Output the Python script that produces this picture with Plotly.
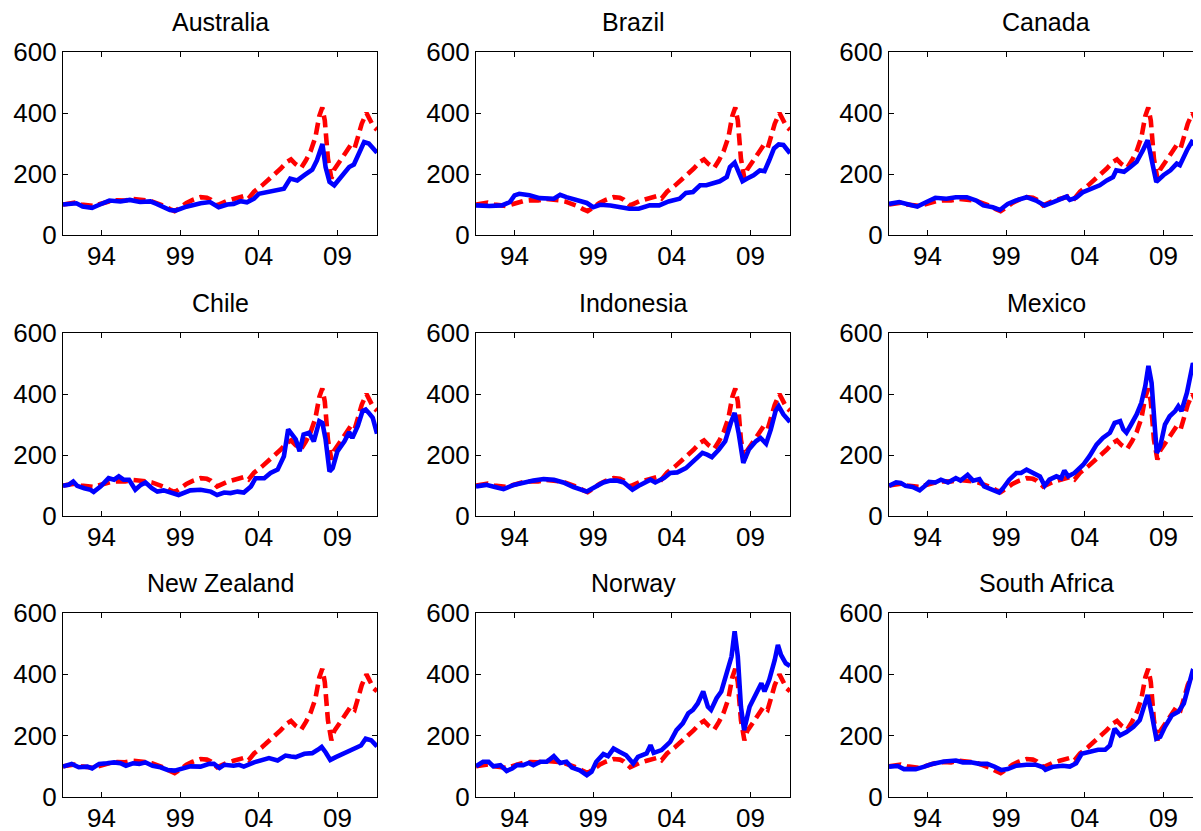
import plotly.graph_objects as go

# ---------------- data ----------------
COMMON_T = [1991.55, 1991.9, 1992.3, 1992.7, 1993.0, 1993.5, 1993.8, 1994.2, 1994.6, 1995.0,
            1995.5, 1996.0, 1996.4, 1996.8, 1997.2, 1997.6, 1998.0, 1998.35, 1998.65, 1999.0,
            1999.4, 1999.8, 2000.3, 2000.7, 2000.95, 2001.35, 2001.65, 2002.0, 2002.4, 2002.8,
            2003.1, 2003.35, 2003.7, 2004.2, 2004.6, 2005.0, 2005.4, 2005.8, 2006.05, 2006.35,
            2006.7, 2007.0, 2007.3, 2007.6, 2007.85, 2008.04, 2008.2, 2008.4, 2008.62, 2008.8,
            2009.1, 2009.5, 2009.85, 2010.1, 2010.3, 2010.55, 2010.85, 2011.05, 2011.3, 2011.52]
COMMON_V = [100, 104, 106, 100, 98, 95, 100, 107, 112, 114,
            113, 118, 117, 114, 110, 104, 95, 85, 78, 90,
            105, 115, 124, 122, 116, 97, 105, 112, 118, 124,
            128, 120, 142, 162, 180, 200, 218, 240, 248, 232,
            220, 245, 275, 320, 390, 418, 375, 250, 185, 215,
            240, 268, 295, 285, 320, 365, 400, 378, 355, 345]

AUS_T = [1991.55, 1992.4, 1992.8, 1993.4, 1993.9, 1994.5, 1995.2, 1995.8, 1996.45, 1997.1,
         1997.5, 1997.9, 1998.35, 1998.7, 1999.4, 2000.3, 2000.9, 2001.45, 2002.0, 2002.4,
         2002.85, 2003.25, 2003.7, 2004.0, 2004.5, 2005.2, 2005.6, 2006.0, 2006.45, 2006.9,
         2007.4, 2007.7, 2008.05, 2008.25, 2008.5, 2008.8, 2009.2, 2009.75, 2010.05, 2010.4,
         2010.7, 2011.0, 2011.52]
AUS_V = [100, 104, 93, 89, 100, 113, 110, 115, 108, 110,
         102, 91, 82, 80, 93, 104, 108, 91, 100, 102,
         111, 107, 119, 135, 141, 149, 152, 185, 179, 196,
         214, 245, 298, 223, 174, 163, 190, 223, 231, 267,
         305, 300, 270]

BRA_T = [1991.55, 1992.4, 1993.2, 1993.7, 1994.0, 1994.3, 1994.95, 1995.6, 1996.5, 1996.9,
         1997.3, 1997.95, 1998.6, 1999.0, 1999.45, 2000.1, 2000.7, 2001.3, 2001.9, 2002.6,
         2003.2, 2003.8, 2004.5, 2004.9, 2005.35, 2005.8, 2006.2, 2006.6, 2007.05, 2007.5,
         2007.7, 2008.0, 2008.3, 2008.5, 2008.8, 2009.2, 2009.6, 2009.9, 2010.2, 2010.5,
         2010.8, 2011.1, 2011.52]
BRA_V = [97, 95, 97, 108, 130, 135, 130, 121, 119, 132,
         124, 116, 105, 91, 99, 97, 93, 86, 86, 97,
         97, 110, 119, 138, 141, 163, 163, 171, 176, 190,
         223, 237, 201, 176, 185, 196, 212, 209, 245, 284,
         297, 295, 268]

CAN_T = [1991.55, 1992.2, 1992.8, 1993.35, 1994.0, 1994.5, 1995.2, 1995.8, 1996.5, 1997.1,
         1997.55, 1998.15, 1998.6, 1999.1, 1999.6, 2000.3, 2000.9, 2001.45, 2002.0, 2002.6,
         2002.85, 2003.05, 2003.45, 2003.9, 2004.3, 2004.95, 2005.4, 2005.8, 2006.0, 2006.5,
         2006.9, 2007.3, 2007.7, 2008.0, 2008.35, 2008.55, 2009.0, 2009.45, 2009.85, 2010.05,
         2010.5, 2010.8, 2011.1, 2011.52]
CAN_V = [102, 108, 100, 93, 110, 122, 119, 124, 124, 113,
         97, 91, 82, 102, 113, 124, 113, 97, 108, 119,
         126, 115, 122, 141, 148, 163, 179, 190, 212, 207,
         223, 240, 278, 311, 223, 174, 196, 212, 234, 229,
         278, 305, 294, 262]

CHL_T = [1991.55, 1991.9, 1992.2, 1992.45, 1992.9, 1993.3, 1993.5, 1993.95, 1994.45, 1994.8,
         1995.1, 1995.4, 1995.75, 1996.15, 1996.5, 1996.8, 1997.2, 1997.55, 1997.95, 1998.5,
         1998.9, 1999.65, 2000.3, 2000.95, 2001.35, 2001.8, 2002.2, 2002.65, 2003.05, 2003.5,
         2003.8, 2004.35, 2004.75, 2005.2, 2005.6, 2005.87, 2006.15, 2006.35, 2006.6, 2006.85,
         2007.2, 2007.5, 2007.85, 2008.05, 2008.25, 2008.5, 2008.7, 2009.0, 2009.45, 2009.75,
         2009.95, 2010.3, 2010.6, 2010.8, 2011.0, 2011.25, 2011.52]
CHL_V = [99, 102, 113, 99, 91, 86, 79, 97, 124, 119,
         130, 119, 119, 86, 102, 110, 91, 80, 84, 75,
         69, 84, 86, 80, 69, 77, 75, 80, 77, 97,
         124, 124, 141, 152, 196, 284, 262, 251, 212, 267,
         273, 245, 311, 305, 251, 146, 157, 212, 245, 275,
         256, 295, 344, 349, 338, 322, 270]

IDN_T = [1991.55, 1992.2, 1992.75, 1993.3, 1993.95, 1994.6, 1995.2, 1995.85, 1996.5, 1997.1,
         1997.75, 1998.6, 1999.25, 1999.65, 2000.1, 2000.5, 2000.95, 2001.5, 2002.0, 2002.65,
         2002.95, 2003.5, 2003.9, 2004.35, 2004.9, 2005.4, 2005.95, 2006.25, 2006.55, 2007.0,
         2007.4, 2007.75, 2008.0, 2008.25, 2008.55, 2008.9, 2009.35, 2009.65, 2010.0, 2010.3,
         2010.6, 2010.8, 2011.1, 2011.52]
IDN_V = [97, 102, 95, 88, 102, 110, 116, 121, 119, 110,
         95, 80, 99, 110, 116, 116, 110, 86, 102, 119,
         110, 124, 141, 143, 157, 179, 207, 201, 193, 218,
         245, 305, 338, 273, 174, 218, 245, 256, 237, 284,
         344, 360, 333, 308]

MEX_T = [1991.55, 1992.0, 1992.3, 1992.6, 1993.05, 1993.5, 1993.8, 1994.1, 1994.5, 1994.85,
         1995.3, 1995.8, 1996.1, 1996.55, 1996.9, 1997.3, 1997.6, 1998.15, 1998.55, 1998.8,
         1999.2, 1999.65, 1999.95, 2000.3, 2000.7, 2001.15, 2001.45, 2001.75, 2002.2, 2002.5,
         2002.7, 2002.95, 2003.35, 2003.9, 2004.3, 2004.75, 2005.15, 2005.6, 2005.9, 2006.25,
         2006.45, 2006.65, 2006.95, 2007.3, 2007.6, 2007.85, 2008.05, 2008.25, 2008.45, 2008.58,
         2008.8, 2009.1, 2009.4, 2009.75, 2009.95, 2010.15, 2010.5, 2010.7, 2010.88, 2011.05,
         2011.35, 2011.52]
MEX_V = [99, 110, 108, 99, 95, 84, 97, 112, 110, 119,
         110, 124, 116, 135, 116, 121, 97, 86, 77, 91,
         119, 141, 141, 152, 141, 130, 99, 119, 130, 124,
         149, 130, 141, 168, 196, 234, 256, 273, 305, 311,
         284, 273, 300, 333, 371, 426, 492, 437, 295, 207,
         229, 300, 327, 344, 360, 344, 404, 459, 501, 475,
         448, 428]

NZL_T = [1991.55, 1992.1, 1992.55, 1993.1, 1993.4, 1993.85, 1994.35, 1994.8, 1995.2, 1995.55,
         1996.0, 1996.4, 1996.8, 1997.25, 1997.75, 1998.2, 1998.65, 1999.1, 1999.65, 2000.3,
         2000.85, 2001.15, 2001.5, 2001.8, 2002.4, 2002.75, 2003.05, 2003.7, 2004.15, 2004.65,
         2005.2, 2005.7, 2006.05, 2006.35, 2006.9, 2007.4, 2007.75, 2008.0, 2008.25, 2008.55,
         2008.9, 2009.35, 2009.75, 2010.2, 2010.5, 2010.8, 2011.15, 2011.52]
NZL_V = [99, 108, 97, 99, 93, 108, 110, 113, 110, 102,
         110, 108, 113, 102, 97, 88, 86, 93, 100, 99,
         108, 108, 95, 105, 102, 105, 99, 113, 119, 127,
         119, 135, 132, 130, 141, 143, 154, 163, 146, 121,
         130, 141, 152, 160, 168, 190, 185, 165]

NOR_T = [1991.55, 1992.0, 1992.35, 1992.65, 1993.1, 1993.5, 1993.85, 1994.15, 1994.55, 1994.9,
         1995.2, 1995.65, 1996.05, 1996.5, 1996.9, 1997.3, 1997.65, 1998.15, 1998.6, 1998.9,
         1999.2, 1999.65, 1999.95, 2000.3, 2000.7, 2001.1, 2001.55, 2001.85, 2002.4, 2002.65,
         2002.85, 2003.35, 2003.9, 2004.3, 2004.7, 2005.05, 2005.35, 2005.65, 2006.0, 2006.3,
         2006.5, 2006.85, 2007.15, 2007.45, 2007.8, 2008.0, 2008.2, 2008.4, 2008.6, 2008.95,
         2009.25, 2009.7, 2009.9, 2010.2, 2010.55, 2010.75, 2010.95, 2011.25, 2011.52]
NOR_V = [100, 115, 115, 100, 104, 85, 93, 104, 104, 111,
         104, 115, 115, 133, 111, 115, 96, 87, 71, 82,
         115, 140, 133, 158, 147, 136, 109, 131, 142, 169,
         144, 153, 180, 218, 240, 273, 284, 305, 344, 294,
         284, 322, 344, 393, 458, 540, 458, 294, 218, 294,
         327, 371, 344, 382, 447, 496, 463, 436, 427]

ZAF_T = [1991.55, 1992.1, 1992.5, 1993.25, 1993.8, 1994.3, 1995.05, 1995.8, 1996.25, 1996.75,
         1997.3, 1997.8, 1998.25, 1998.7, 1999.1, 1999.65, 2000.3, 2000.9, 2001.35, 2001.5,
         2002.0, 2002.6, 2003.05, 2003.45, 2003.8, 2004.3, 2004.85, 2005.3, 2005.6, 2005.9,
         2006.25, 2006.65, 2007.1, 2007.5, 2007.75, 2008.0, 2008.25, 2008.55, 2008.8, 2009.1,
         2009.55, 2009.95, 2010.3, 2010.6, 2010.85, 2011.15, 2011.35, 2011.52]
ZAF_V = [99, 101, 91, 91, 99, 108, 116, 119, 113, 113,
         108, 108, 99, 88, 91, 102, 105, 105, 97, 89,
         99, 102, 99, 110, 141, 146, 154, 154, 168, 223,
         201, 212, 229, 251, 295, 333, 273, 190, 196, 229,
         267, 278, 305, 365, 409, 399, 393, 350]

COUNTRIES = ["Australia", "Brazil", "Canada", "Chile", "Indonesia", "Mexico",
             "New Zealand", "Norway", "South Africa"]
SERIES_T = [AUS_T, BRA_T, CAN_T, CHL_T, IDN_T, MEX_T, NZL_T, NOR_T, ZAF_T]
SERIES_V = [AUS_V, BRA_V, CAN_V, CHL_V, IDN_V, MEX_V, NZL_V, NOR_V, ZAF_V]

X_TICKS = [1994, 1999, 2004, 2009]
X_TICK_LABELS = ["94", "99", "04", "09"]
Y_TICKS = [0, 200, 400, 600]

# ---------------- layout geometry (screen pixels) ----------------
W, H = 1201, 831
OFF = 8  # page body margin: figure starts 8 px right/down of the window corner
COL_PX = [(63, 377), (476, 790), (889, 1203)]
ROW_PX = [(52, 235), (333, 516), (613, 797)]
X0, X1 = 1991.55, 2011.52
FONT = "Liberation Sans, Arial, Helvetica, sans-serif"

fig = go.Figure()
layout = dict(
    width=W, height=H, margin=dict(l=0, r=0, t=0, b=0, autoexpand=False),
    paper_bgcolor="white", plot_bgcolor="white", showlegend=False,
    font=dict(family=FONT, color="black"),
)
annotations = []

for i, name in enumerate(COUNTRIES):
    r, c = divmod(i, 3)
    suffix = "" if i == 0 else str(i + 1)
    left, right = (p - OFF for p in COL_PX[c])
    top, bottom = (p - OFF for p in ROW_PX[r])

    fig.add_trace(go.Scatter(
        x=COMMON_T, y=COMMON_V, mode="lines",
        line=dict(color="#ff0000", width=4.6, dash="12px,6px"),
        xaxis="x" + suffix, yaxis="y" + suffix, hoverinfo="skip"))
    fig.add_trace(go.Scatter(
        x=SERIES_T[i], y=SERIES_V[i], mode="lines",
        line=dict(color="#0000ff", width=4.6),
        xaxis="x" + suffix, yaxis="y" + suffix, hoverinfo="skip"))

    layout["xaxis" + suffix] = dict(
        domain=[left / W, right / W], range=[X0, X1], anchor="y" + suffix,
        tickmode="array", tickvals=X_TICKS, ticktext=X_TICK_LABELS,
        ticks="inside", ticklen=5, tickwidth=1, tickcolor="black",
        showline=True, linecolor="black", linewidth=1.3, mirror="ticks",
        showgrid=False, zeroline=False, fixedrange=True, automargin=False,
        tickfont=dict(size=26, family=FONT, color="black"),
        ticklabelstandoff=-2,
    )
    layout["yaxis" + suffix] = dict(
        domain=[1 - bottom / H, 1 - top / H], range=[0, 600], anchor="x" + suffix,
        tickmode="array", tickvals=Y_TICKS,
        ticks="inside", ticklen=5, tickwidth=1, tickcolor="black",
        showline=True, linecolor="black", linewidth=1.3, mirror="ticks",
        showgrid=False, zeroline=False, fixedrange=True, automargin=False,
        tickfont=dict(size=26, family=FONT, color="black"),
        ticklabelstandoff=0,
    )
    annotations.append(dict(
        text=name, x=(left + right) / 2 / W, y=1 - top / H,
        xref="paper", yref="paper", xanchor="center", yanchor="bottom",
        yshift=14, showarrow=False,
        font=dict(size=25, family=FONT, color="black")))

layout["annotations"] = annotations
fig.update_layout(**layout)
fig.write_html("out.html")
